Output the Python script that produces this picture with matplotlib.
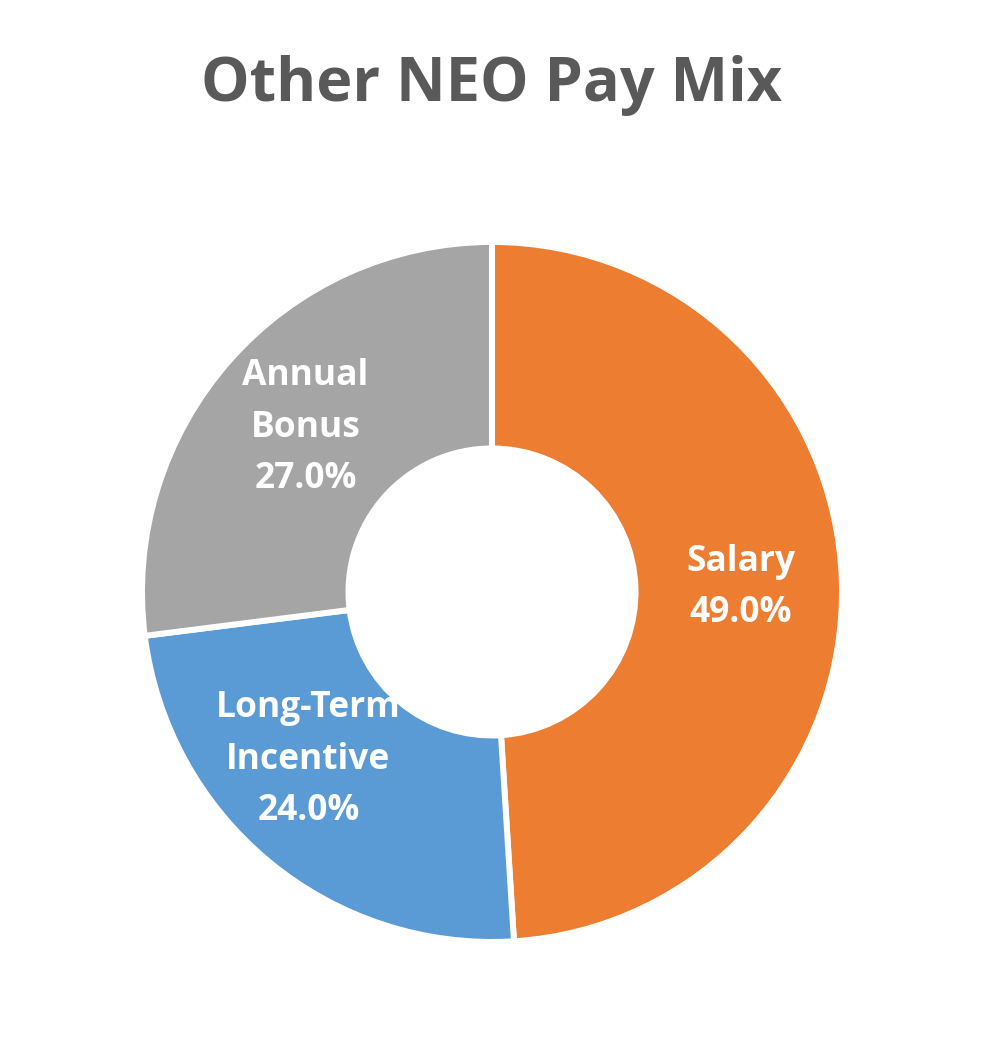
import numpy as np
import matplotlib.pyplot as plt

categories = ["Salary", "Long-Term\nIncentive", "Annual\nBonus"]
shares = [49.0, 24.0, 27.0]
colors = ["#ED7D31", "#5B9BD5", "#A5A5A5"]

# small manual nudges of the label angle (degrees), like the hand-placed labels
label_shift = [-0.8, -8, 0]


def plot_pay_mix():
    fig = plt.figure(figsize=(9.84, 10.52), dpi=100)
    ax = fig.add_axes([0.1443, 0.1046, 0.7114, 0.6654])

    wedges, _ = ax.pie(shares, colors=colors, startangle=90, counterclock=False,
                       radius=1.0, wedgeprops=dict(width=0.59, edgecolor="white", linewidth=4.3))

    # labels at the middle of each ring segment
    for w, cat, val, sh in zip(wedges, categories, shares, label_shift):
        mid = np.deg2rad((w.theta1 + w.theta2) / 2 + sh)
        r = 0.71
        ax.text(r * np.cos(mid), r * np.sin(mid), f"{cat}\n{val:.1f}%",
                ha="center", va="center", color="white", fontsize=25.5,
                fontweight="bold", family="Open Sans", linespacing=1.57)

    ax.set_xlim(-1, 1)
    ax.set_ylim(-1, 1)
    ax.set_aspect("equal")
    ax.axis("off")

    fig.text(0.5, 0.919, "Other NEO Pay Mix", ha="center", va="center",
             fontsize=44, fontweight="bold", family="Open Sans", color="#595959")

    fig.savefig("out.png", dpi=100, facecolor="white")


if __name__ == "__main__":
    plot_pay_mix()
